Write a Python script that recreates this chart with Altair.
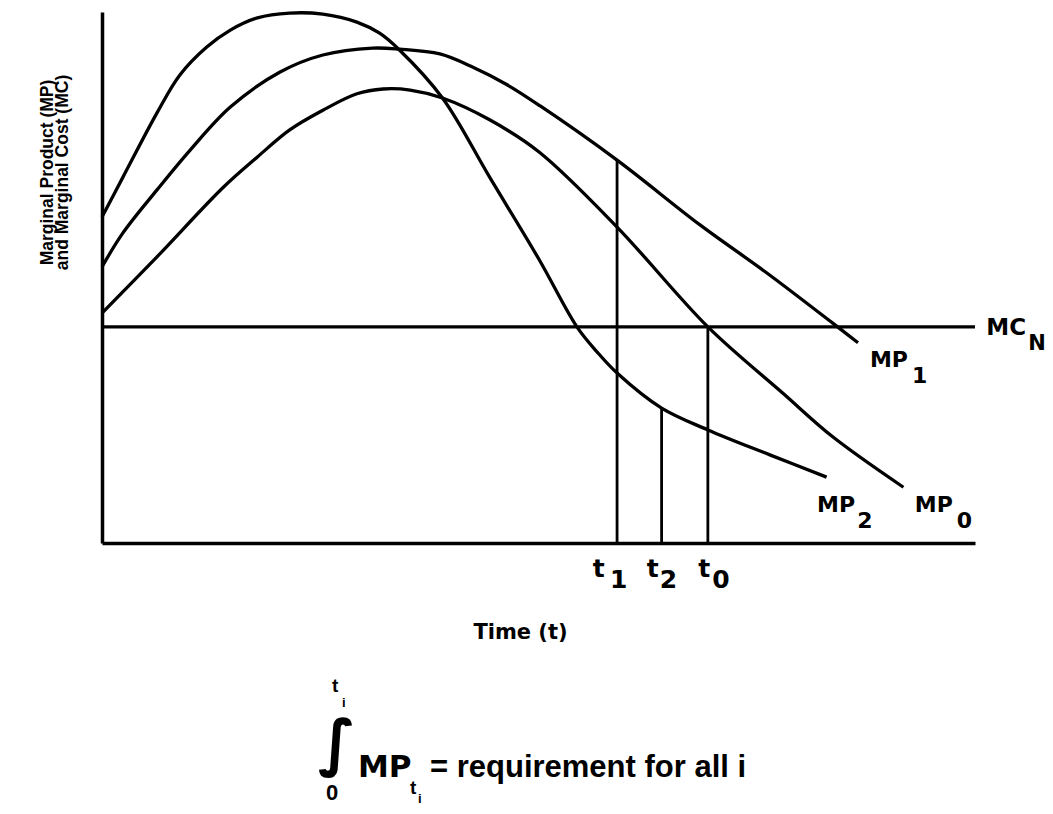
import altair as alt
import pandas as pd

# ---- curves (time t on 0-100, value on 0-100) ----
mp2_t = [0, 2.4, 6.3, 8.9, 12.0, 14.7, 17.8, 21.5, 25.3, 29.2, 31.8, 34.1, 39.0, 44.4, 50.1, 54.4, 56.7, 59.0, 64.1, 69.4, 76.5, 83.0]
mp2_v = [61.4, 68.9, 81.0, 88.1, 93.4, 96.6, 98.9, 99.8, 99.6, 98.1, 96.0, 92.8, 83.8, 68.9, 53.3, 40.7, 36.0, 32.0, 25.4, 21.3, 16.6, 12.4]

mp1_t = [0, 2.4, 6.3, 10.1, 14.7, 20.4, 25.3, 31.0, 34.1, 38.7, 42.5, 46.4, 50.2, 59.0, 68.5, 76.2, 83.7, 86.6]
mp1_v = [52.0, 58.4, 66.5, 74.0, 82.1, 88.7, 91.9, 93.2, 93.0, 92.1, 89.6, 86.3, 82.3, 72.1, 59.9, 50.8, 41.4, 37.7]

mp0_t = [0, 6.3, 13.9, 17.8, 21.5, 25.3, 29.2, 32.2, 35.3, 39.0, 44.4, 50.1, 59.0, 69.4, 78.0, 83.7, 91.8]
mp0_v = [43.3, 53.9, 67.0, 72.7, 77.8, 81.5, 84.6, 85.5, 85.3, 83.8, 79.7, 73.6, 59.5, 40.7, 28.2, 20.0, 10.5]

mc_value = 40.7
mc_span = [0, 100]

# vertical markers t1, t2, t0 and the height they reach
mark_names = ["t1", "t2", "t0"]
mark_t = [59.0, 64.1, 69.4]
mark_top = [72.1, 25.4, 40.7]

# curve labels (anchor: left/baseline, in data units)
mp_text = ["MP", "MP", "MP"]
mp_t = [87.97, 81.9, 93.1]
mp_v = [33.1, 5.8, 5.8]
mp_sub = ["1", "2", "0"]
mp_sub_t = [92.78, 86.5, 97.9]
mp_sub_v = [30.1, 2.8, 2.8]

mc_text = ["MC"]
mc_lab_t = [101.3]
mc_lab_v = [39.2]
mc_sub = ["N"]
mc_sub_t = [106.1]
mc_sub_v = [36.3]

tl_text = ["t", "t", "t"]
tl_t = [56.2, 62.4, 68.3]
tl_v = [-6.4, -6.4, -6.4]
tl_sub = ["1", "2", "0"]
tl_sub_t = [58.2, 63.9, 69.9]
tl_sub_v = [-8.5, -8.5, -8.5]

# ---- tables ----
curves = pd.concat([
    pd.DataFrame({"series": "MP2", "t": mp2_t, "v": mp2_v}),
    pd.DataFrame({"series": "MP1", "t": mp1_t, "v": mp1_v}),
    pd.DataFrame({"series": "MP0", "t": mp0_t, "v": mp0_v}),
], ignore_index=True)

mc_df = pd.DataFrame({"t": [mc_span[0]], "t2": [mc_span[1]], "v": [mc_value]})
marks_df = pd.DataFrame({"name": mark_names, "t": mark_t, "v": [0] * 3, "v2": mark_top})

FONT = "DejaVu Sans"
FONT2 = "Liberation Sans"

x_enc = alt.X("t:Q", scale=alt.Scale(domain=[0, 100], nice=False, zero=False),
              axis=alt.Axis(title="Time (t)", labels=False, ticks=False, grid=False,
                            domainColor="black", domainWidth=3.5,
                            titleX=418, titleY=95, titleAlign="center",
                            titleBaseline="alphabetic", titleFont=FONT,
                            titleFontSize=21, titleFontWeight="bold", titleColor="black"))
y_enc = alt.Y("v:Q", scale=alt.Scale(domain=[0, 100], nice=False, zero=False),
              axis=alt.Axis(title=["Marginal Product (MP)", "and Marginal Cost (MC)"],
                            labels=False, ticks=False, grid=False,
                            domainColor="black", domainWidth=3.5,
                            titleX=-50, titleY=160, titleAngle=270, titleAlign="center",
                            titleBaseline="alphabetic", titleLineHeight=15,
                            titleFont=FONT2, titleFontSize=17.5, titleFontWeight="bold",
                            titleColor="black"))

lines = alt.Chart(curves).mark_line(color="black", strokeWidth=3.3, interpolate="catmull-rom").encode(
    x=x_enc, y=y_enc, detail="series:N", order="t:Q")

mc_rule = alt.Chart(mc_df).mark_rule(color="black", strokeWidth=3.3).encode(
    x=x_enc, x2="t2:Q", y=y_enc)

vrules = alt.Chart(marks_df).mark_rule(color="black", strokeWidth=2.8).encode(
    x=x_enc, y=y_enc, y2="v2:Q")


def label_layer(texts, ts, vs, size):
    df = pd.DataFrame({"label": texts, "t": ts, "v": vs})
    return alt.Chart(df).mark_text(font=FONT, fontWeight="bold", fontSize=size, color="black",
                                   align="left", baseline="alphabetic").encode(
        x=x_enc, y=y_enc, text="label:N")


labels = [
    label_layer(mp_text, mp_t, mp_v, 22),
    label_layer(mp_sub, mp_sub_t, mp_sub_v, 22),
    label_layer(mc_text, mc_lab_t, mc_lab_v, 23),
    label_layer(mc_sub, mc_sub_t, mc_sub_v, 21),
    label_layer(tl_text, tl_t, tl_v, 25),
    label_layer(tl_sub, tl_sub_t, tl_sub_v, 25),
]

# ---- formula below the chart (pixel positions relative to plot area) ----
one = pd.DataFrame({"a": [0]})


def ftext(txt, x, y, size, font=FONT2, align="left", baseline="alphabetic"):
    return alt.Chart(one).mark_text(font=font, fontWeight="bold", fontSize=size, color="black",
                                    align=align, baseline=baseline).encode(
        x=alt.value(x), y=alt.value(y), text=alt.value(txt))


formula = [
    ftext("MP", 256, 765, 31, font=FONT),
    ftext("= requirement for all i", 328, 765, 31),
    ftext("t", 308, 782, 19),
    ftext("i", 316, 791, 13),
    ftext("t", 230, 680, 19),
    ftext("i", 240, 695, 13),
    ftext("0", 224, 788, 22),
    ftext("\u222b", 235, 733, 62, font=FONT, align="center", baseline="middle"),
]

chart = alt.layer(lines, mc_rule, vrules, *labels, *formula).properties(
    width=873, height=531,
    padding={"left": 94, "top": 4, "right": 70, "bottom": 263},
    autosize="none",
).configure_view(stroke=None)

chart.save("out.html", embed_options={"renderer": "svg", "actions": False})
